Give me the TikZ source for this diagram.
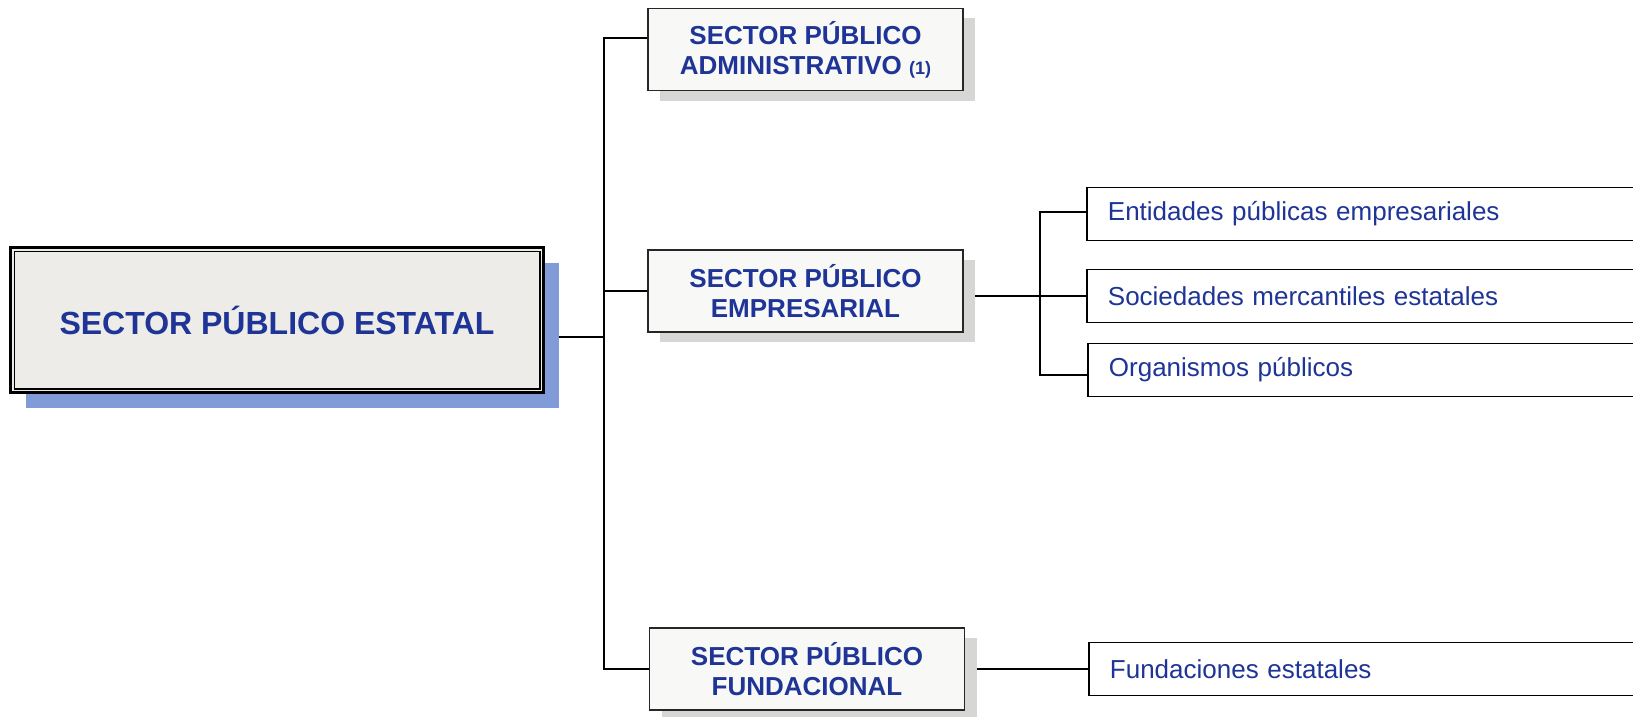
\documentclass[tikz,border=0pt]{standalone}
\usepackage{fontspec}
\setmainfont{Liberation Sans}
\usetikzlibrary{shadows,backgrounds}
\definecolor{textblue}{RGB}{30,52,150}
\definecolor{mainfill}{RGB}{238,236,232}
\definecolor{boxfill}{RGB}{248,248,246}
\definecolor{shadowblue}{RGB}{128,155,215}
\definecolor{shadowgrey}{RGB}{214,214,212}
\begin{document}
\begin{tikzpicture}[x=1pt,y=-1pt,
  conn/.style={draw=black, line width=2pt},
  mainbox/.style={draw=black, line width=2.6pt, fill=mainfill, minimum width=533pt, minimum height=145pt,
    inner sep=0pt, font=\bfseries\fontsize{32}{40}\selectfont, text=textblue,
    drop shadow={shadow xshift=15pt, shadow yshift=-15pt, fill=shadowblue, opacity=1}},
  sbox/.style={draw=black!85, line width=1.6pt, fill=boxfill, minimum width=315pt, minimum height=82pt,
    inner sep=0pt, align=center, font=\bfseries\fontsize{26}{30}\selectfont, text=textblue,
    drop shadow={shadow xshift=12pt, shadow yshift=-10pt, fill=shadowgrey, opacity=1}},
  leaf/.style={draw=black, line width=1.8pt, fill=white, anchor=west, minimum height=53pt,
    inner xsep=21pt, inner ysep=0pt, text width=580pt, align=left, font=\fontsize{26}{30}\selectfont, text=textblue}
]
\clip (0,0) rectangle (1633,717);

\node[mainbox] (main) at (277,320) {SECTOR PÚBLICO ESTATAL};
\draw[line width=1.4pt] ([shift={(5,5)}]main.north west) rectangle ([shift={(-5,-5)}]main.south east);

\node[sbox] (adm) at (805.5,49.5) {SECTOR PÚBLICO\\ADMINISTRATIVO {\fontsize{18}{20}\selectfont(1)}};
\node[sbox] (emp) at (805.5,291) {SECTOR PÚBLICO\\EMPRESARIAL};
\node[sbox] (fund) at (807,669) {SECTOR PÚBLICO\\FUNDACIONAL};

\node[leaf] (ent) at (1086,214) {Entidades públicas empresariales};
\node[leaf] (soc) at (1086,296) {Sociedades mercantiles estatales};
\node[leaf] (org) at (1087,370) {Organismos públicos};
\node[leaf] (fnd) at (1088,669) {Fundaciones estatales};

\coordinate (j1) at (604,337);
\coordinate (a1) at (604,38.5);
\coordinate (j2) at (1040,296);

\begin{pgfonlayer}{background}
  \fill[white] (0,0) rectangle (1633,717);
  \draw[conn] (main.east |- j1) -- (j1);
  \draw[conn] (a1 -| adm.west) -- (a1) -- (fund.west -| a1) -- (fund.west);
  \draw[conn] (emp.west) -- (emp.west -| a1);
  \draw[conn] (emp.east |- j2) -- (j2);
  \draw[conn] ([yshift=2pt]ent.west) -- ([yshift=2pt]ent.west -| j2) -- ([yshift=-5pt]org.west -| j2) -- ([yshift=-5pt]org.west);
  \draw[conn] (soc.west) -- (soc.west -| j2);
  \draw[conn] (fund.east) -- (fund.east -| fnd.west);
\end{pgfonlayer}
\end{tikzpicture}
\end{document}
